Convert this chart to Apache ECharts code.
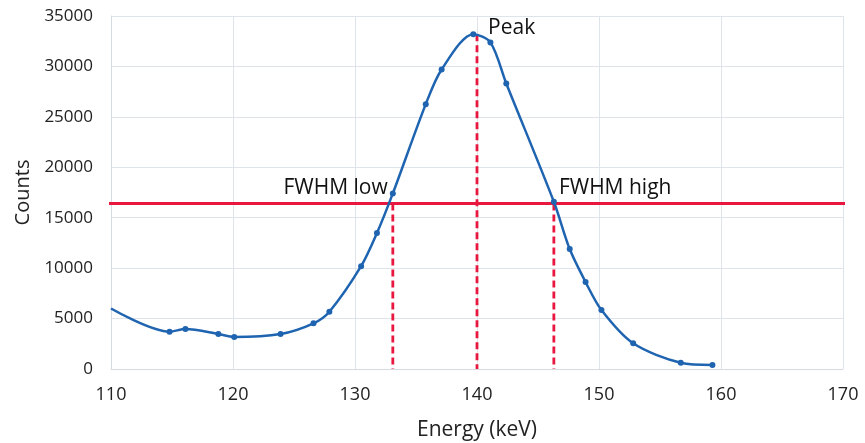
<!DOCTYPE html>
<html><head><meta charset="utf-8">
<script src="https://cdn.jsdelivr.net/npm/echarts@6/dist/echarts.min.js"></script>
<style>html,body{margin:0;padding:0;background:#fff}#c{width:865px;height:443px}</style>
</head><body><div id="c"></div>
<script>
// Measured spectrum points (Energy keV, Counts)
const energy = [110, 114.8, 116.1, 118.8, 120.1, 123.9, 126.6, 127.9, 130.5, 131.8, 133.1, 135.8, 137.1, 139.7, 141.1, 142.4, 146.3, 147.6, 148.9, 150.2, 152.8, 156.7, 159.3];
const counts = [6000, 3700, 3960, 3470, 3170, 3470, 4530, 5680, 10200, 13480, 17410, 26260, 29700, 33200, 32380, 28310, 16580, 11890, 8620, 5850, 2550, 620, 400];
const halfMax = 16400;
const halfLineX = [108, 170.6];
const fwhmLowE = 133.1, peakE = 140, fwhmHighE = 146.3, peakCounts = 33200;
const xTicks = [110, 120, 130, 140, 150, 160, 170];
const yTicks = [0, 5000, 10000, 15000, 20000, 25000, 30000, 35000];

const BLUE = '#1f64b0', RED = '#e8173f';
const FONT = '"Open Sans", "Liberation Sans", sans-serif';

const spectrum = energy.map((e, i) => i === 0 ? { value: [e, counts[i]], symbol: 'none' } : [e, counts[i]]);

const dashed = (x, top, label, pos, offset) => ({
  type: 'line', silent: true, clip: false, symbol: 'none', z: 3,
  lineStyle: { color: RED, width: 2.8, type: [7, 4] },
  data: [
    { value: [x, top], symbol: label ? 'circle' : 'none', symbolSize: 0.1,
      label: label ? { show: true, formatter: label, position: pos, offset: offset, color: '#111', fontSize: 21, fontFamily: FONT } : { show: false } },
    [x, 0]
  ]
});

const chart = echarts.init(document.getElementById('c'), null, { renderer: 'canvas' });
chart.setOption({
  animation: false,
  backgroundColor: '#fff',
  grid: { left: 111, right: 22, top: 16, bottom: 74, containLabel: false, outerBoundsMode: 'none' },
  xAxis: {
    type: 'value', min: xTicks[0], max: xTicks[xTicks.length - 1], interval: 10,
    name: 'Energy (keV)', nameLocation: 'middle', nameGap: 51,
    nameTextStyle: { fontSize: 21, color: '#222', fontFamily: FONT },
    axisLine: { lineStyle: { color: '#d6dbe3' } }, axisTick: { show: false },
    axisLabel: { fontSize: 18, color: '#222', margin: 17, fontFamily: FONT },
    splitLine: { lineStyle: { color: '#dfe3ea', width: 1 } }
  },
  yAxis: {
    type: 'value', min: yTicks[0], max: yTicks[yTicks.length - 1], interval: 5000,
    name: 'Counts', nameLocation: 'middle', nameGap: 78,
    nameTextStyle: { fontSize: 20, color: '#222', fontFamily: FONT },
    axisLine: { show: true, lineStyle: { color: '#d6dbe3' } }, axisTick: { show: false },
    axisLabel: { fontSize: 17, color: '#222', margin: 18, fontFamily: FONT, formatter: v => String(v) },
    splitLine: { lineStyle: { color: '#dfe3ea', width: 1 } }
  },
  series: [
    {
      type: 'line', data: spectrum, smooth: 0.3, z: 5,
      symbol: 'circle', symbolSize: 6,
      itemStyle: { color: BLUE }, lineStyle: { color: BLUE, width: 2.5 }
    },
    {
      type: 'line', silent: true, clip: false, symbol: 'none', z: 2,
      lineStyle: { color: RED, width: 3 },
      data: [[halfLineX[0], halfMax], [halfLineX[1], halfMax]]
    },
    dashed(fwhmLowE, halfMax, 'FWHM low', 'left', [0, -16]),
    dashed(peakE, peakCounts, 'Peak', 'right', [6, -6]),
    dashed(fwhmHighE, halfMax, 'FWHM high', 'right', [0, -16])
  ]
});
</script></body></html>
